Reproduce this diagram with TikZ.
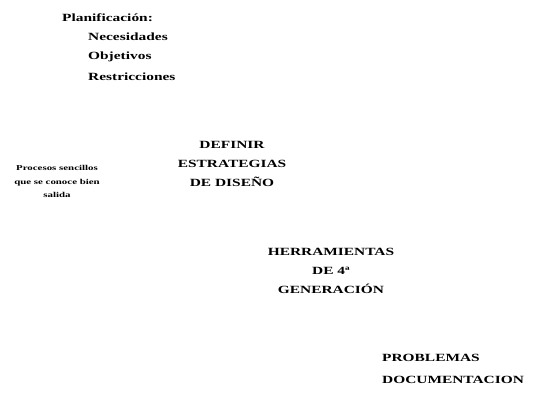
\documentclass[tikz,border=0pt]{standalone}
\usepackage{fontspec}
\setmainfont{Liberation Serif}[FakeStretch=1.4]
\newfontfamily\smallfont{Liberation Serif}[FakeStretch=1.45]
\begin{document}
\begin{tikzpicture}[x=1bp,y=-1bp,
  lbl/.style={inner sep=0pt, font=\bfseries\fontsize{11bp}{19bp}\selectfont},
  blk/.style={lbl, align=center},
  note/.style={inner sep=0pt, align=center, font=\smallfont\bfseries\fontsize{7.5bp}{13.5bp}\selectfont}]
\useasboundingbox (0,0) rectangle (539,409);
\node[lbl, anchor=west] (plan) at (62,18) {Planificación:};
\node[lbl, anchor=west] (nec) at (88,37) {Necesidades};
\node[lbl, anchor=west] (obj) at (88,57) {Objetivos};
\node[lbl, anchor=west] (res) at (88,77) {Restricciones};
\node[note] (proc) at (57,181.5) {Procesos sencillos\\que se conoce bien\\salida};
\node[blk] (def) at (232,164) {DEFINIR\\ESTRATEGIAS\\DE DISEÑO};
\node[blk] (her) at (331,270.5) {HERRAMIENTAS\\DE 4ª\\GENERACIÓN};
\node[lbl, anchor=west, align=left, font=\bfseries\fontsize{11bp}{22bp}\selectfont] (prob) at (382,368.5) {PROBLEMAS\\DOCUMENTACION};
\end{tikzpicture}
\end{document}
